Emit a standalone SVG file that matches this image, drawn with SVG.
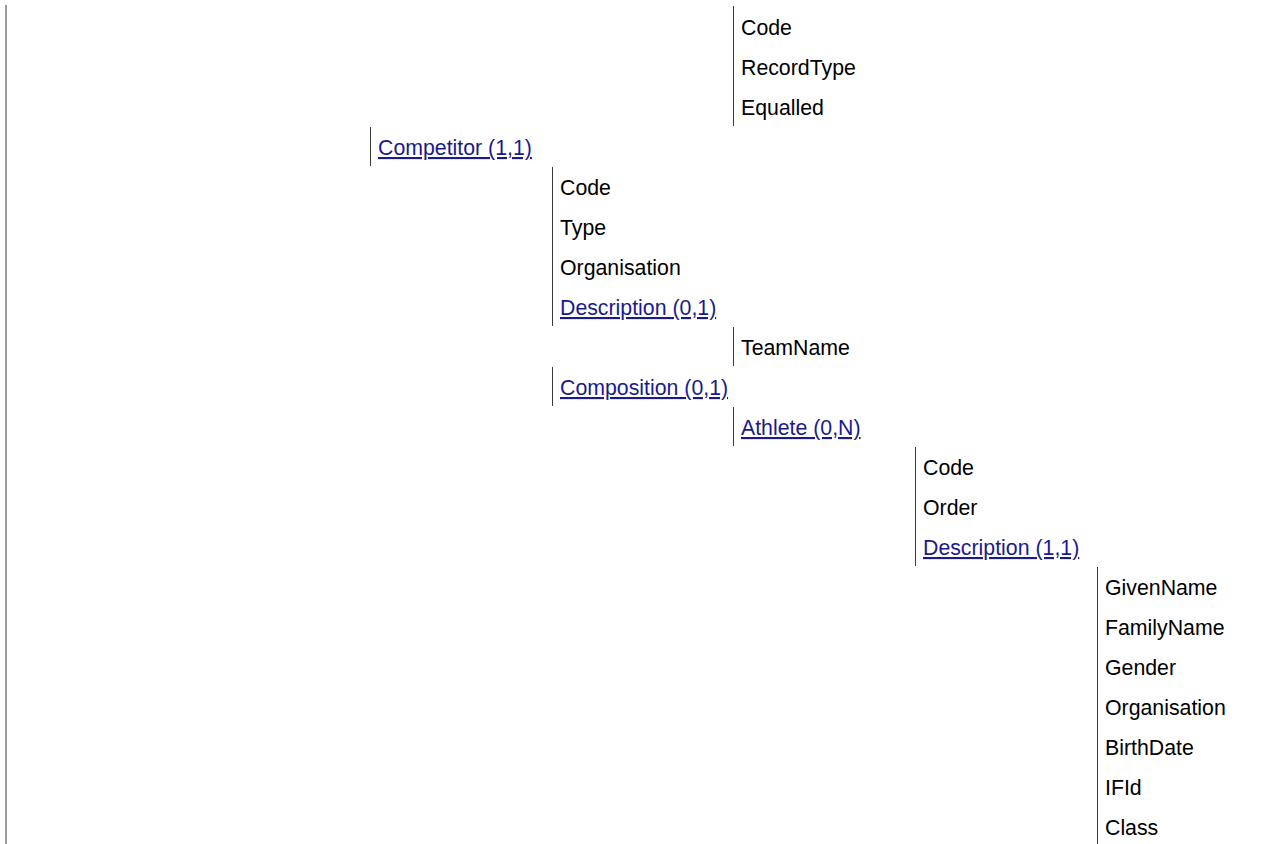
<svg xmlns="http://www.w3.org/2000/svg" width="1276" height="844" viewBox="0 0 1276 844">
<style>
text{font-family:"Liberation Sans",Arial,sans-serif;font-size:21.3px;fill:#000}
text.lk{fill:#1a1a8e;text-decoration:underline}
line{stroke:#3a3a3a;stroke-width:1}
</style>
<rect width="1276" height="844" fill="#fff"/>
<g id="connectors">
<line x1="6" y1="5" x2="6" y2="844"/>
<line x1="733.5" y1="6" x2="733.5" y2="126"/>
<line x1="370.5" y1="127" x2="370.5" y2="166"/>
<line x1="552.5" y1="167" x2="552.5" y2="326"/>
<line x1="733.5" y1="327" x2="733.5" y2="366"/>
<line x1="552.5" y1="367" x2="552.5" y2="406"/>
<line x1="733.5" y1="407" x2="733.5" y2="446"/>
<line x1="915.5" y1="447" x2="915.5" y2="566"/>
<line x1="1097.5" y1="567" x2="1097.5" y2="844"/>
</g>
<g id="record">
<text x="741" y="35">Code</text>
<text x="741" y="75">RecordType</text>
<text x="741" y="115">Equalled</text>
</g>
<g id="competitor"><text class="lk" x="378" y="155">Competitor (1,1)</text></g>
<g id="competitor-fields">
<text x="560" y="195">Code</text>
<text x="560" y="235">Type</text>
<text x="560" y="275">Organisation</text>
</g>
<g id="description01"><text class="lk" x="560" y="315">Description (0,1)</text></g>
<g id="teamname"><text x="741" y="355">TeamName</text></g>
<g id="composition"><text class="lk" x="560" y="395">Composition (0,1)</text></g>
<g id="athlete"><text class="lk" x="741" y="435">Athlete (0,N)</text></g>
<g id="athlete-fields">
<text x="923" y="475">Code</text>
<text x="923" y="515">Order</text>
</g>
<g id="description11"><text class="lk" x="923" y="555">Description (1,1)</text></g>
<g id="person-fields">
<text x="1105" y="595">GivenName</text>
<text x="1105" y="635">FamilyName</text>
<text x="1105" y="675">Gender</text>
<text x="1105" y="715">Organisation</text>
<text x="1105" y="755">BirthDate</text>
<text x="1105" y="795">IFId</text>
<text x="1105" y="835">Class</text>
</g>
</svg>
